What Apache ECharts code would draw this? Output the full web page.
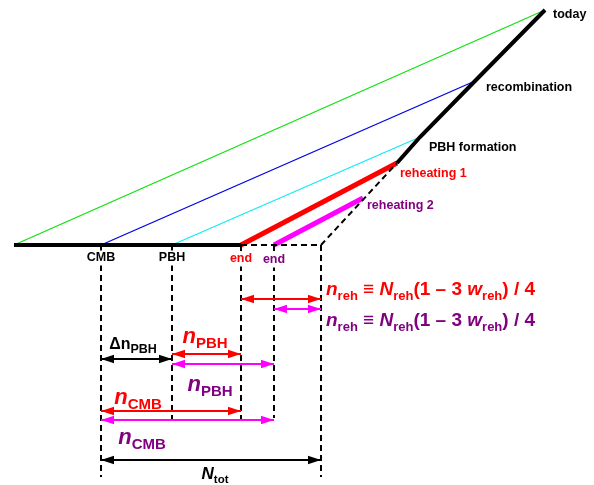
<!DOCTYPE html>
<html><head><meta charset="utf-8">
<script src="https://cdn.jsdelivr.net/npm/echarts@6/dist/echarts.min.js"></script>
<style>html,body{margin:0;padding:0;background:#fff}#c{width:594px;height:485px}</style>
</head><body><div id="c"></div>
<script>
// Diagram coordinates (x: e-fold axis, y: log-scale axis, downward)
const baseY = 245;
const xStart = 14, xCMB = 101, xPBH = 172, xEnd1 = 241, xEnd2 = 274, xCorner = 321;
const today = [545, 10];
const recomb = [475, 81];
const pbhForm = [420, 137];
const reh1 = [397, 163];
const reh2 = [363, 198];
const vLong = 477, vShort = 420;
// arrow rows (y) and spans
const arrows = [
  {name: 'nreh1', y: 299, from: xEnd1, to: xCorner, color: '#ff0000'},
  {name: 'nreh2', y: 309, from: xEnd2, to: xCorner, color: '#ff00ff'},
  {name: 'dnPBH', y: 359, from: xCMB, to: xPBH, color: '#000000'},
  {name: 'nPBH1', y: 354, from: xPBH, to: xEnd1, color: '#ff0000'},
  {name: 'nPBH2', y: 364, from: xPBH, to: xEnd2, color: '#ff00ff'},
  {name: 'nCMB1', y: 411, from: xCMB, to: xEnd1, color: '#ff0000'},
  {name: 'nCMB2', y: 420, from: xCMB, to: xEnd2, color: '#ff00ff'},
  {name: 'Ntot', y: 460, from: xCMB, to: xCorner, color: '#000000'}
];
const RED = '#ff0000', PURPLE = '#800080', MAG = '#ff00ff';
const FONT = '"Liberation Sans", Arial, sans-serif';
// slender arrowhead whose tip sits at the centre of a square symbol box
const ARROW = 'path://M-13,-13 L-13,-13 M13,13 L13,13 M0,0 L4.2,13 L-4.2,13 Z';

function line(pts, color, width, type, z) {
  return {type: 'line', data: pts, symbol: 'none', silent: true, z: z || 2,
    lineStyle: {color: color, width: width, type: type || 'solid', cap: 'butt', join: 'miter', opacity: 1},
    animation: false};
}
const dash = [6, 4];
const series = [
  line([[xStart, baseY], today], '#11e011', 1.3),
  line([[xCMB, baseY], recomb], '#0000e0', 1.3),
  line([[xPBH, baseY], pbhForm], '#11eaf8', 1.3),
  line([[xEnd1, baseY], reh1], RED, 5),
  line([[xEnd2, baseY], reh2], MAG, 5),
  line([[xStart, baseY], [xEnd1, baseY]], '#000', 4, 'solid', 3),
  line([reh1, pbhForm, recomb, today], '#000', 4, 'solid', 3),
  line([[xEnd1, baseY], [xCorner, baseY], reh1], '#000', 2, dash, 3),
  line([[xCMB, baseY], [xCMB, vLong]], '#000', 2, dash),
  line([[xPBH, baseY], [xPBH, vShort]], '#000', 2, dash),
  line([[xEnd1, baseY], [xEnd1, vShort]], '#000', 2, dash),
  line([[xEnd2, baseY], [xEnd2, vShort - 2]], '#000', 2, dash),
  line([[xCorner, baseY], [xCorner, vLong]], '#000', 2, dash)
];
arrows.forEach(a => {
  series.push({type: 'lines', coordinateSystem: 'cartesian2d', silent: true, z: 4, animation: false,
    symbol: [ARROW, ARROW], symbolSize: 26,
    lineStyle: {color: a.color, width: 2, opacity: 1, curveness: 0},
    data: [{coords: [[a.from, a.y], [a.to, a.y]]}]});
});

function sub(size) { return {fontSize: size, fontWeight: 'bold', fontFamily: FONT, verticalAlign: 'bottom', lineHeight: size}; }
function main(size, italic) { return {fontSize: size, fontWeight: 'bold', fontStyle: italic ? 'italic' : 'normal', fontFamily: FONT, lineHeight: size + 6}; }

const LS = 12.5;
const labels = [
  {pos: today, text: 'today', color: '#000', size: LS, align: 'left', dx: 8, dy: 5},
  {pos: recomb, text: 'recombination', color: '#000', size: LS, align: 'left', dx: 11, dy: 7},
  {pos: pbhForm, text: 'PBH formation', color: '#000', size: LS, align: 'left', dx: 9, dy: 11},
  {pos: reh1, text: 'reheating 1', color: RED, size: LS, align: 'left', dx: 3, dy: 11},
  {pos: reh2, text: 'reheating 2', color: PURPLE, size: LS, align: 'left', dx: 4, dy: 8},
  {pos: [xCMB, baseY], text: 'CMB', color: '#000', size: LS, align: 'center', dx: 0, dy: 13, bg: true},
  {pos: [xPBH, baseY], text: 'PBH', color: '#000', size: LS, align: 'center', dx: 0, dy: 13, bg: true},
  {pos: [xEnd1, baseY], text: 'end', color: RED, size: LS, align: 'center', dx: 0, dy: 14, bg: true},
  {pos: [xEnd2, baseY], text: 'end', color: PURPLE, size: LS, align: 'center', dx: 0, dy: 15, bg: true}
];
const mathLabels = [
  {pos: [326, 290], color: RED, align: 'left', rich: 'reh'},
  {pos: [326, 321], color: PURPLE, align: 'left', rich: 'reh'},
  {pos: [133, 345], color: '#000', align: 'center', rich: 'dn'},
  {pos: [205, 337], color: RED, align: 'center', rich: 'npbh'},
  {pos: [210, 385], color: PURPLE, align: 'center', rich: 'npbh'},
  {pos: [138, 398], color: RED, align: 'center', rich: 'ncmb'},
  {pos: [142, 438], color: PURPLE, align: 'center', rich: 'ncmb'},
  {pos: [215, 474], color: '#000', align: 'center', rich: 'ntot'}
];
const formulas = {
  reh: '{i|n}{s|reh}{m| ≡ }{i|N}{s|reh}{m|(1 – 3 }{i|w}{s|reh}{m|) / 4}',
  dn: '{m|Δn}{s|PBH}',
  npbh: '{i|n}{s|PBH}',
  ncmb: '{i|n}{s|CMB}',
  ntot: '{i|N}{s|tot}'
};
const richSets = {
  reh: {i: main(19, true), m: main(19, false), s: sub(13)},
  dn: {m: main(16, false), s: sub(12.5)},
  npbh: {i: main(22, true), s: sub(15)},
  ncmb: {i: main(22, true), s: sub(15)},
  ntot: {i: main(17, true), s: sub(11.5)}
};

const baseLabel = {show: true, distance: 0, verticalAlign: 'middle', opacity: 1, textBorderWidth: 0, textShadowBlur: 0};
const textData = labels.map(l => ({
  value: [l.pos[0] + l.dx, l.pos[1] + l.dy],
  label: Object.assign({}, baseLabel, {formatter: l.text, color: l.color, fontSize: l.size, fontWeight: 'bold', fontFamily: FONT,
    position: l.align === 'left' ? 'right' : 'inside', align: l.align,
    backgroundColor: l.bg ? '#fff' : 'transparent', padding: l.bg ? [1, 1, 1, 1] : 0})
}));
mathLabels.forEach(m => {
  const r = richSets[m.rich];
  const rich = {};
  Object.keys(r).forEach(k => { rich[k] = Object.assign({color: m.color, textBorderWidth: 0}, r[k]); });
  textData.push({
    value: m.pos,
    label: Object.assign({}, baseLabel, {formatter: formulas[m.rich], rich: rich, color: m.color,
      position: m.align === 'left' ? 'right' : 'inside', align: m.align})
  });
});
series.push({type: 'scatter', data: textData, symbolSize: 0, silent: true, z: 5, animation: false,
  itemStyle: {opacity: 1}});

const chart = echarts.init(document.getElementById('c'), null, {renderer: 'canvas'});
chart.setOption({
  animation: false,
  backgroundColor: '#fff',
  grid: {left: 0, right: 0, top: 0, bottom: 0},
  xAxis: {type: 'value', min: 0, max: 594, show: false},
  yAxis: {type: 'value', min: 0, max: 485, inverse: true, show: false},
  series: series
});
</script></body></html>
